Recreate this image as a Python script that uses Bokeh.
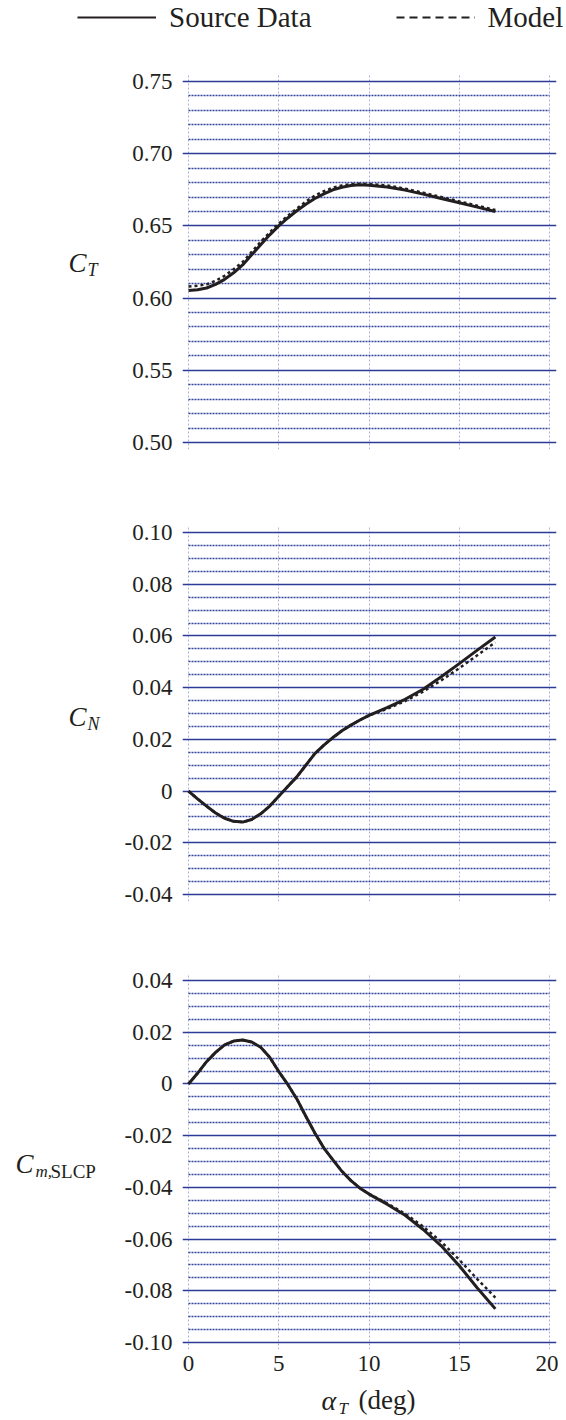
from bokeh.plotting import figure
from bokeh.layouts import column, row
from bokeh.models import (Range1d, FixedTicker, LinearAxis, Label, Legend, LegendItem, Grid)
from bokeh.embed import file_html
from bokeh.resources import INLINE

# ---------------- data ----------------
alpha_deg = [0, 0.5, 1, 1.5, 2, 2.5, 3, 3.5, 4, 4.5, 5, 5.5, 6, 6.5, 7, 7.5, 8, 8.5, 9, 9.5,
             10, 11, 12, 13, 14, 15, 16, 17]

ct_source = [0.6053, 0.6058, 0.607, 0.6095, 0.613, 0.6175, 0.623, 0.630, 0.637, 0.6438,
             0.650, 0.6555, 0.6605, 0.665, 0.669, 0.6722, 0.675, 0.6768, 0.678, 0.6785,
             0.6782, 0.677, 0.6748, 0.672, 0.669, 0.666, 0.663, 0.660]
ct_model = [0.608, 0.6085, 0.6095, 0.612, 0.6155, 0.620, 0.625, 0.632, 0.639, 0.6455,
            0.6515, 0.657, 0.662, 0.6668, 0.671, 0.674, 0.6765, 0.678, 0.679, 0.6792,
            0.679, 0.678, 0.6758, 0.673, 0.670, 0.667, 0.664, 0.661]

cn_source = [0.0, -0.003, -0.0058, -0.0085, -0.0105, -0.0117, -0.012, -0.011, -0.0088, -0.0058,
             -0.002, 0.0018, 0.0055, 0.0100, 0.0145, 0.0178, 0.0207, 0.0233, 0.0255, 0.0275,
             0.0293, 0.0323, 0.0355, 0.0394, 0.0442, 0.0493, 0.0545, 0.0596]
cn_model = [0.0, -0.003, -0.0058, -0.0085, -0.0105, -0.0117, -0.012, -0.011, -0.0088, -0.0058,
            -0.002, 0.0018, 0.0055, 0.0100, 0.0145, 0.0178, 0.0207, 0.0233, 0.0255, 0.0275,
            0.0292, 0.0318, 0.0348, 0.0385, 0.0428, 0.0475, 0.0525, 0.0575]

cm_source = [0.0, 0.0041, 0.0086, 0.0122, 0.0151, 0.0166, 0.017, 0.0162, 0.0142, 0.0103,
             0.0048, -0.0002, -0.0058, -0.0125, -0.019, -0.0248, -0.0294, -0.0338, -0.0374,
             -0.0403, -0.0426, -0.0465, -0.0508, -0.0563, -0.0626, -0.0703, -0.0789, -0.087]
cm_model = [0.0, 0.0041, 0.0086, 0.0122, 0.0151, 0.0166, 0.017, 0.0162, 0.0142, 0.0103,
            0.0048, -0.0002, -0.0058, -0.0125, -0.019, -0.0248, -0.0294, -0.0338, -0.0374,
            -0.0403, -0.0425, -0.0462, -0.0502, -0.0552, -0.061, -0.068, -0.0755, -0.0826]

x_ticks = [0, 5, 10, 15, 20]
x_tick_labels = ["0", "5", "10", "15", "20"]

ct_ticks = [0.50, 0.55, 0.60, 0.65, 0.70, 0.75]
ct_tick_labels = ["0.50", "0.55", "0.60", "0.65", "0.70", "0.75"]
cn_ticks = [-0.04, -0.02, 0.0, 0.02, 0.04, 0.06, 0.08, 0.10]
cn_tick_labels = ["-0.04", "-0.02", "0", "0.02", "0.04", "0.06", "0.08", "0.10"]
cm_ticks = [-0.10, -0.08, -0.06, -0.04, -0.02, 0.0, 0.02, 0.04]
cm_tick_labels = ["-0.10", "-0.08", "-0.06", "-0.04", "-0.02", "0", "0.02", "0.04"]

legend_labels = ["Source Data", "Model"]

# ---------------- style ----------------
FONT = "Liberation Serif"
INK = "#231f20"
MAJOR = "#2b3b96"
MINOR = "#33439c"
VGRID = "#a9b1df"

LAB_W = 110          # width of the y-title column
PLOT_W = 448         # width of each panel figure
FRAME_W = 361        # width used by x = 0..20
EXT_L, EXT_R, EXT_V = 6, 7, 7   # grid-line overhangs in px


def minor_values(lo, hi, step, majors):
    n = int(round((hi - lo) / step))
    mset = set(round(t, 4) for t in majors)
    vals = [round(lo + i * step, 4) for i in range(n + 1)]
    return [v for v in vals if v not in mset]


def make_panel(height, y_lo, y_hi, ticks, labels, minor_step, b_top, b_bot, frame_h, show_x):
    xpx = FRAME_W / 20.0
    ypx = frame_h / (y_hi - y_lo)
    xr = Range1d(-EXT_L / xpx, 20 + EXT_R / xpx)
    yr = Range1d(y_lo - EXT_V / ypx, y_hi + EXT_V / ypx)
    p = figure(width=PLOT_W, height=height, x_range=xr, y_range=yr,
               output_backend="svg", toolbar_location=None,
               x_axis_type=None, y_axis_type=None,
               min_border_left=188 - LAB_W - EXT_L, min_border_right=2,
               min_border_top=b_top, min_border_bottom=b_bot)
    p.outline_line_color = None
    p.background_fill_color = "white"
    p.border_fill_color = "white"

    minors = minor_values(y_lo, y_hi, minor_step, ticks)
    xt = FixedTicker(ticks=x_ticks)

    vg = Grid(dimension=0, ticker=xt, grid_line_color=VGRID, grid_line_width=1,
              grid_line_dash="2 2")
    mg = Grid(dimension=1, ticker=FixedTicker(ticks=[], minor_ticks=minors),
              grid_line_color=None,
              minor_grid_line_color=MINOR, minor_grid_line_width=1.3,
              minor_grid_line_dash="2 1", cross_bounds=(0, 20))
    hg = Grid(dimension=1, ticker=FixedTicker(ticks=ticks), grid_line_color=MAJOR,
              grid_line_width=1.4)
    p.add_layout(vg)
    p.add_layout(mg)
    p.add_layout(hg)

    ly = LinearAxis(ticker=FixedTicker(ticks=ticks), axis_line_color=None,
                    major_tick_out=0, major_tick_in=0, minor_tick_out=0, minor_tick_in=0,
                    major_tick_line_color=None,
                    major_label_standoff=10, major_label_text_font=FONT,
                    major_label_text_font_size="23px", major_label_text_color=INK,
                    major_label_overrides={t: l for t, l in zip(ticks, labels)})
    p.add_layout(ly, "left")

    if show_x:
        bx = LinearAxis(ticker=xt, axis_line_color=None,
                        major_tick_out=0, major_tick_in=0, minor_tick_out=0, minor_tick_in=0,
                        major_tick_line_color=None,
                        major_label_standoff=6, major_label_text_font=FONT,
                        major_label_text_color=INK, major_label_text_font_size="23px",
                        major_label_overrides={t: l for t, l in zip(x_ticks, x_tick_labels)})
        p.add_layout(bx, "below")
    return p


def add_curves(p, src, mod):
    p.line(alpha_deg, src, line_color=INK, line_width=3, line_join="round")
    p.line(alpha_deg, mod, line_color=INK, line_width=2.5, line_dash="3 3")


def text_fig(width, height):
    f = figure(width=width, height=height, x_range=Range1d(0, width),
               y_range=Range1d(height, 0), output_backend="svg", toolbar_location=None,
               x_axis_type=None, y_axis_type=None, min_border=0)
    f.outline_line_color = None
    f.grid.visible = False
    f.background_fill_color = "white"
    f.border_fill_color = "white"
    return f


def lab(f, x, y, text, size, style="normal"):
    f.add_layout(Label(x=x, y=y, text=text, text_font=FONT, text_font_size=size,
                       text_font_style=style, text_color=INK,
                       text_baseline="middle", text_align="left"))


# ---------------- legend strip ----------------
LEG_H = 40
LEG_W = 566
# ranges chosen so the series themselves fall outside this strip; only the legend shows
leg_fig = figure(width=LEG_W, height=LEG_H, x_range=Range1d(100, 200), y_range=Range1d(100, 200),
                 output_backend="svg", toolbar_location=None,
                 x_axis_type=None, y_axis_type=None, min_border=0)
leg_fig.outline_line_color = None
leg_fig.grid.visible = False
r_src = leg_fig.line(alpha_deg, ct_source, line_color=INK, line_width=2)
r_mod = leg_fig.line(alpha_deg, ct_model, line_color=INK, line_width=2, line_dash="8 5")
leg = Legend(items=[LegendItem(label=legend_labels[0], renderers=[r_src]),
                    LegendItem(label=legend_labels[1], renderers=[r_mod])],
             location=(77, 6), orientation="horizontal",
             glyph_width=79, glyph_height=34, label_height=34, label_standoff=13,
             spacing=84, padding=0, margin=0,
             label_text_font=FONT, label_text_font_size="29px", label_text_color=INK,
             border_line_color=None, background_fill_alpha=0)
leg_fig.add_layout(leg, "center")

# ---------------- top panel: C_T ----------------
H1 = 447
p1 = make_panel(H1, 0.50, 0.75, ct_ticks, ct_tick_labels, 0.01, 34, 38, 361, False)
add_curves(p1, ct_source, ct_model)
l1 = text_fig(LAB_W, H1)
lab(l1, 68, 225, "C", "27px", "italic")
lab(l1, 87, 233, "T", "18px", "italic")

# ---------------- middle panel: C_N ----------------
H2 = 450
p2 = make_panel(H2, -0.04, 0.10, cn_ticks, cn_tick_labels, 0.005, 38, 36, 362, False)
add_curves(p2, cn_source, cn_model)
l2 = text_fig(LAB_W, H2)
lab(l2, 68, 229, "C", "27px", "italic")
lab(l2, 87, 237, "N", "18px", "italic")

# ---------------- bottom panel: C_m,SLCP ----------------
H3 = 445
p3 = make_panel(H3, -0.10, 0.04, cm_ticks, cm_tick_labels, 0.005, 36, 33, 362, True)
add_curves(p3, cm_source, cm_model)
l3 = text_fig(LAB_W, H3)
lab(l3, 15, 226, "C", "27px", "italic")
lab(l3, 35, 234, "m,", "17px", "italic")
lab(l3, 50, 234, "SLCP", "19px")

# ---------------- x-axis title ----------------
T_H = 36
t_fig = text_fig(LAB_W + PLOT_W, T_H)
lab(t_fig, 321, 18, "α", "28px", "italic")
lab(t_fig, 338, 26, "T", "17px", "italic")
lab(t_fig, 358, 17, "(deg)", "27px")

layout = column(leg_fig,
                row(l1, p1, spacing=0),
                row(l2, p2, spacing=0),
                row(l3, p3, spacing=0),
                t_fig, spacing=0)
open("out.html", "w").write(file_html(layout, INLINE))
